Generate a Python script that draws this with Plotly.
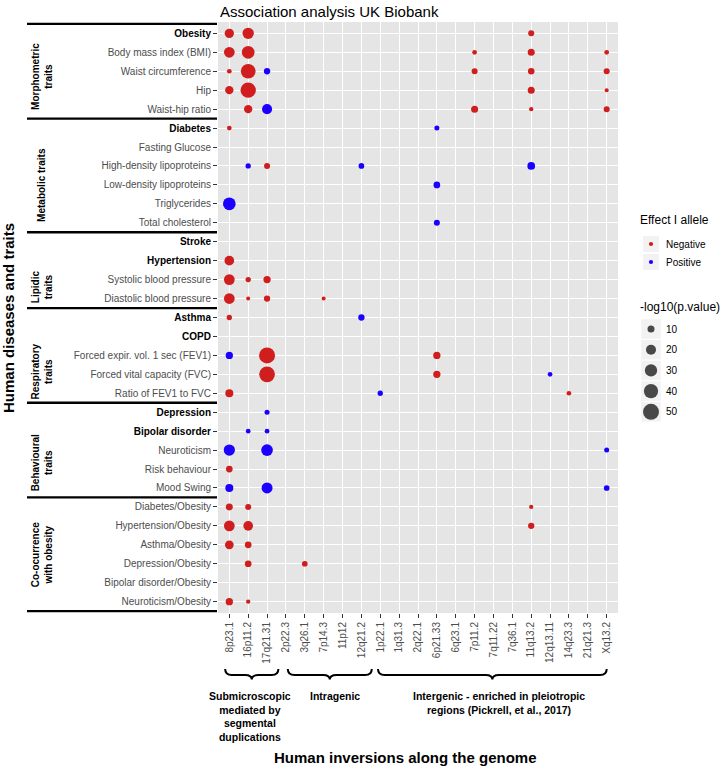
import math
import plotly.graph_objects as go

# ---------------- data ----------------
inversions = ["8p23.1", "16p11.2", "17q21.31", "2p22.3", "3q26.1", "7p14.3", "11p12",
              "12q21.2", "1p22.1", "1q31.3", "2q22.1", "6p21.33", "6q23.1", "7p11.2",
              "7q11.22", "7q36.1", "11q13.2", "12q13.11", "14q23.3", "21q21.3", "Xq13.2"]

traits = ["Obesity", "Body mass index (BMI)", "Waist circumference", "Hip", "Waist-hip ratio",
          "Diabetes", "Fasting Glucose", "High-density lipoproteins", "Low-density lipoproteins",
          "Triglycerides", "Total cholesterol",
          "Stroke", "Hypertension", "Systolic blood pressure", "Diastolic blood pressure",
          "Asthma", "COPD", "Forced expir. vol. 1 sec (FEV1)", "Forced vital capacity (FVC)",
          "Ratio of FEV1 to FVC",
          "Depression", "Bipolar disorder", "Neuroticism", "Risk behaviour", "Mood Swing",
          "Diabetes/Obesity", "Hypertension/Obesity", "Asthma/Obesity", "Depression/Obesity",
          "Bipolar disorder/Obesity", "Neuroticism/Obesity"]

bold_traits = ["Obesity", "Diabetes", "Stroke", "Hypertension", "Asthma", "COPD",
               "Depression", "Bipolar disorder"]

trait_groups = ["Morphometric<br>traits", "Metabolic traits", "Lipidic<br>traits",
                "Respiratory<br>traits", "Behavioural<br>traits", "Co-ocurrence<br>with obesity"]
group_sizes = [5, 6, 4, 5, 5, 6]

inversion_groups = ["Submicroscopic<br>mediated by<br>segmental<br>duplications",
                    "Intragenic",
                    "Intergenic - enriched in pleiotropic<br>regions (Pickrell, et al., 2017)"]

# associations
assoc_trait = [
    "Obesity", "Obesity", "Obesity",
    "Body mass index (BMI)", "Body mass index (BMI)", "Body mass index (BMI)", "Body mass index (BMI)", "Body mass index (BMI)",
    "Waist circumference", "Waist circumference", "Waist circumference", "Waist circumference", "Waist circumference", "Waist circumference",
    "Hip", "Hip", "Hip", "Hip",
    "Waist-hip ratio", "Waist-hip ratio", "Waist-hip ratio", "Waist-hip ratio", "Waist-hip ratio",
    "Diabetes", "Diabetes",
    "High-density lipoproteins", "High-density lipoproteins", "High-density lipoproteins", "High-density lipoproteins",
    "Low-density lipoproteins",
    "Triglycerides",
    "Total cholesterol",
    "Hypertension",
    "Systolic blood pressure", "Systolic blood pressure", "Systolic blood pressure",
    "Diastolic blood pressure", "Diastolic blood pressure", "Diastolic blood pressure", "Diastolic blood pressure",
    "Asthma", "Asthma",
    "Forced expir. vol. 1 sec (FEV1)", "Forced expir. vol. 1 sec (FEV1)", "Forced expir. vol. 1 sec (FEV1)",
    "Forced vital capacity (FVC)", "Forced vital capacity (FVC)", "Forced vital capacity (FVC)",
    "Ratio of FEV1 to FVC", "Ratio of FEV1 to FVC", "Ratio of FEV1 to FVC",
    "Depression",
    "Bipolar disorder", "Bipolar disorder",
    "Neuroticism", "Neuroticism", "Neuroticism",
    "Risk behaviour",
    "Mood Swing", "Mood Swing", "Mood Swing",
    "Diabetes/Obesity", "Diabetes/Obesity", "Diabetes/Obesity",
    "Hypertension/Obesity", "Hypertension/Obesity", "Hypertension/Obesity",
    "Asthma/Obesity", "Asthma/Obesity",
    "Depression/Obesity", "Depression/Obesity",
    "Neuroticism/Obesity", "Neuroticism/Obesity",
]
assoc_inv = [
    "8p23.1", "16p11.2", "11q13.2",
    "8p23.1", "16p11.2", "7p11.2", "11q13.2", "Xq13.2",
    "8p23.1", "16p11.2", "17q21.31", "7p11.2", "11q13.2", "Xq13.2",
    "8p23.1", "16p11.2", "11q13.2", "Xq13.2",
    "16p11.2", "17q21.31", "7p11.2", "11q13.2", "Xq13.2",
    "8p23.1", "6p21.33",
    "16p11.2", "17q21.31", "12q21.2", "11q13.2",
    "6p21.33",
    "8p23.1",
    "6p21.33",
    "8p23.1",
    "8p23.1", "16p11.2", "17q21.31",
    "8p23.1", "16p11.2", "17q21.31", "7p14.3",
    "8p23.1", "12q21.2",
    "8p23.1", "17q21.31", "6p21.33",
    "17q21.31", "6p21.33", "12q13.11",
    "8p23.1", "1p22.1", "14q23.3",
    "17q21.31",
    "16p11.2", "17q21.31",
    "8p23.1", "17q21.31", "Xq13.2",
    "8p23.1",
    "8p23.1", "17q21.31", "Xq13.2",
    "8p23.1", "16p11.2", "11q13.2",
    "8p23.1", "16p11.2", "11q13.2",
    "8p23.1", "16p11.2",
    "16p11.2", "3q26.1",
    "8p23.1", "16p11.2",
]
assoc_effect = [
    "Negative", "Negative", "Negative",
    "Negative", "Negative", "Negative", "Negative", "Negative",
    "Negative", "Negative", "Positive", "Negative", "Negative", "Negative",
    "Negative", "Negative", "Negative", "Negative",
    "Negative", "Positive", "Negative", "Negative", "Negative",
    "Negative", "Positive",
    "Positive", "Negative", "Positive", "Positive",
    "Positive",
    "Positive",
    "Positive",
    "Negative",
    "Negative", "Negative", "Negative",
    "Negative", "Negative", "Negative", "Negative",
    "Negative", "Positive",
    "Positive", "Negative", "Negative",
    "Negative", "Negative", "Positive",
    "Negative", "Positive", "Negative",
    "Positive",
    "Positive", "Positive",
    "Positive", "Positive", "Positive",
    "Negative",
    "Positive", "Positive", "Positive",
    "Negative", "Negative", "Negative",
    "Negative", "Negative", "Negative",
    "Negative", "Negative",
    "Negative", "Negative",
    "Negative", "Negative",
]
assoc_logp = [
    17.2, 25.2, 7.5,
    22.7, 31.7, 4.8, 10.0, 4.8,
    4.8, 42.3, 8.2, 7.5, 8.7, 7.5,
    13.8, 45.8, 10.0, 3.6,
    13.8, 19.9, 10.0, 4.1, 7.5,
    4.8, 5.4,
    6.0, 7.5, 6.8, 12.0,
    9.2,
    31.7,
    7.5,
    18.7,
    22.7, 6.0, 10.8,
    22.7, 3.6, 8.2, 3.6,
    6.0, 8.2,
    10.8, 50.0, 10.8,
    48.2, 10.8, 4.8,
    12.9, 6.0, 4.8,
    5.4,
    4.8, 4.8,
    25.2, 27.0, 5.4,
    9.2,
    12.9, 23.9, 6.8,
    10.0, 7.5, 4.1,
    22.7, 18.7, 8.2,
    15.2, 9.2,
    9.2, 6.8,
    10.8, 4.1,
]

effects = ["Negative", "Positive"]
size_breaks = [10, 20, 30, 40, 50]

# ---------------- styles / layout ----------------
W, H = 726, 767
FONT = "Liberation Sans, Arial, sans-serif"
effect_colors = {"Negative": "#D01D1D", "Positive": "#1C00FF"}
GREY_TXT = "#4D4D4D"
SIZE_SLOPE, SIZE_OFFSET = 5.175, -2.75   # diameter^2 linear in -log10(p)


def diam(v):
    return math.sqrt(max(SIZE_SLOPE * v + SIZE_OFFSET, 1.0))


panel_left, panel_right, panel_top, panel_bottom = 218, 618, 22, 613
xdom = [panel_left / W, panel_right / W]
ydom = [1 - panel_bottom / H, 1 - panel_top / H]


def py(p):  # pixel y -> paper
    return 1 - p / H


def px(p):
    return p / W


fig = go.Figure()

# main points
for eff in effects:
    xs, ys, ss = [], [], []
    for t, inv, e, v in zip(assoc_trait, assoc_inv, assoc_effect, assoc_logp):
        if e != eff:
            continue
        xs.append(inversions.index(inv))
        ys.append(traits.index(t))
        ss.append(diam(v))
    fig.add_trace(go.Scatter(
        x=xs, y=ys, mode="markers", showlegend=False, xaxis="x", yaxis="y",
        marker=dict(size=ss, color=effect_colors[eff], line=dict(width=0), opacity=1),
        hoverinfo="skip"))

# y tick labels
yticktext = []
for t in traits:
    if t in bold_traits:
        yticktext.append(f"<b><span style='color:#000000'>{t}</span></b>")
    else:
        yticktext.append(t)

shapes = []
annotations = []

# panel background
shapes.append(dict(type="rect", xref="x domain", yref="y domain", x0=0, x1=1, y0=0, y1=1,
                   fillcolor="#E5E5E5", line=dict(width=0), layer="below"))

# group separators and labels
group_label_offsets = [0.3, 0.5, 0.9, 0.85, 0.7, 0.05]
start = 0
bounds = [-0.5]
for g, n, off in zip(trait_groups, group_sizes, group_label_offsets):
    end = start + n - 1
    bounds.append(end + 0.5)
    center = (start + end) / 2 + off
    annotations.append(dict(text=f"<b>{g}</b>", xref="paper", yref="y", x=px(42), y=center,
                            textangle=-90, showarrow=False, xanchor="center", yanchor="middle",
                            font=dict(family=FONT, size=10, color="#000000")))
    start = end + 1
for b in bounds:
    shapes.append(dict(type="line", xref="paper", yref="y", x0=px(27), x1=px(217), y0=b, y1=b,
                       line=dict(color="#000000", width=2.3)))

# braces under x axis
brace_spans = [(-0.22, 2.6), (3.1, 7.55), (7.88, 20.0)]
brace_text_x = [1.1, 5.6, 14.3]
ytop, ymid, ytip = py(669), py(675), py(679.5)
dx = 0.35
for (x0, x1), gname, tx in zip(brace_spans, inversion_groups, brace_text_x):
    xm = (x0 + x1) / 2
    path = (f"M {x0},{ytop} Q {x0},{ymid} {x0 + dx},{ymid} L {xm - dx},{ymid} "
            f"Q {xm},{ymid} {xm},{ytip} Q {xm},{ymid} {xm + dx},{ymid} "
            f"L {x1 - dx},{ymid} Q {x1},{ymid} {x1},{ytop}")
    shapes.append(dict(type="path", xref="x", yref="paper", path=path,
                       line=dict(color="#000000", width=2)))
    annotations.append(dict(text=f"<b>{gname}</b>", xref="x", yref="paper", x=tx, y=py(688),
                            showarrow=False, xanchor="center", yanchor="top", align="center",
                            font=dict(family=FONT, size=10.5, color="#000000")))

# titles
annotations.append(dict(text="Association analysis UK Biobank", xref="paper", yref="paper",
                        x=px(218), y=py(11), xanchor="left", yanchor="middle", showarrow=False,
                        font=dict(family=FONT, size=15, color="#000000")))
annotations.append(dict(text="<b>Human inversions along the genome</b>", xref="paper", yref="paper",
                        x=px(405), y=py(757), xanchor="center", yanchor="middle", showarrow=False,
                        font=dict(family=FONT, size=15, color="#000000")))
annotations.append(dict(text="<b>Human diseases and traits</b>", xref="paper", yref="paper",
                        x=px(8), y=py(318), xanchor="center", yanchor="middle", showarrow=False,
                        textangle=-90, font=dict(family=FONT, size=15, color="#000000")))

# ---------------- manual legend (pixel frame on x2/y2) ----------------
leg_left, key_cx, lab_x = 638, 651, 664
# colour legend
annotations.append(dict(text="Effect I allele", xref="x2", yref="y2", x=leg_left, y=220,
                        xanchor="left", yanchor="middle", showarrow=False,
                        font=dict(family=FONT, size=12, color="#000000")))
col_y0, col_step, col_box = 244, 18, 16
for i, eff in enumerate(effects):
    cy = col_y0 + i * col_step
    shapes.append(dict(type="rect", xref="x2", yref="y2", x0=key_cx - col_box / 2, x1=key_cx + col_box / 2,
                       y0=cy - col_box / 2, y1=cy + col_box / 2, fillcolor="#F2F2F2",
                       line=dict(width=0), layer="below"))
    fig.add_trace(go.Scatter(x=[key_cx], y=[cy], xaxis="x2", yaxis="y2", mode="markers",
                             showlegend=False, hoverinfo="skip", cliponaxis=False,
                             marker=dict(size=4.2, color=effect_colors[eff], line=dict(width=0))))
    annotations.append(dict(text=eff, xref="x2", yref="y2", x=lab_x, y=cy, xanchor="left",
                            yanchor="middle", showarrow=False,
                            font=dict(family=FONT, size=10, color="#000000")))
# size legend
annotations.append(dict(text="-log10(p.value)", xref="x2", yref="y2", x=leg_left, y=307,
                        xanchor="left", yanchor="middle", showarrow=False,
                        font=dict(family=FONT, size=12, color="#000000")))
sz_y0, sz_step, sz_box = 329, 20.7, 19.5
for i, b in enumerate(size_breaks):
    cy = sz_y0 + i * sz_step
    shapes.append(dict(type="rect", xref="x2", yref="y2", x0=key_cx - sz_box / 2, x1=key_cx + sz_box / 2,
                       y0=cy - sz_box / 2, y1=cy + sz_box / 2, fillcolor="#F2F2F2",
                       line=dict(width=0), layer="below"))
    annotations.append(dict(text=str(b), xref="x2", yref="y2", x=lab_x, y=cy, xanchor="left",
                            yanchor="middle", showarrow=False,
                            font=dict(family=FONT, size=10, color="#000000")))
fig.add_trace(go.Scatter(x=[key_cx] * len(size_breaks),
                         y=[sz_y0 + i * sz_step for i in range(len(size_breaks))],
                         xaxis="x2", yaxis="y2", mode="markers", showlegend=False,
                         hoverinfo="skip", cliponaxis=False,
                         marker=dict(size=[diam(b) for b in size_breaks], color="#000000",
                                     line=dict(width=0))))

fig.update_layout(
    width=W, height=H, margin=dict(l=0, r=0, t=0, b=0),
    paper_bgcolor="#FFFFFF", plot_bgcolor="rgba(0,0,0,0)",
    showlegend=False, font=dict(family=FONT, size=10, color=GREY_TXT),
    shapes=shapes, annotations=annotations,
    xaxis=dict(domain=xdom, range=[-0.6, len(inversions) - 0.4], tickmode="array",
               tickvals=list(range(len(inversions))), ticktext=inversions, tickangle=-90,
               showgrid=True, gridcolor="#FFFFFF", gridwidth=1.1, zeroline=False, showline=False,
               ticks="outside", ticklen=4, tickcolor="#333333", tickwidth=1,
               tickfont=dict(family=FONT, size=10, color=GREY_TXT), anchor="y", fixedrange=True),
    yaxis=dict(domain=ydom, range=[len(traits) - 0.4, -0.6], tickmode="array",
               tickvals=list(range(len(traits))), ticktext=yticktext,
               showgrid=True, gridcolor="#FFFFFF", gridwidth=1.1, zeroline=False, showline=False,
               ticks="outside", ticklen=4, tickcolor="#333333", tickwidth=1,
               tickfont=dict(family=FONT, size=10, color=GREY_TXT), anchor="x", fixedrange=True),
    xaxis2=dict(domain=[0, 1], range=[0, W], visible=False, anchor="y2", fixedrange=True),
    yaxis2=dict(domain=[0, 1], range=[H, 0], visible=False, anchor="x2", fixedrange=True),
)

fig.write_html("out.html", config={"displayModeBar": False},
               post_script="document.body.style.margin='0px';document.body.style.overflow='hidden';")
